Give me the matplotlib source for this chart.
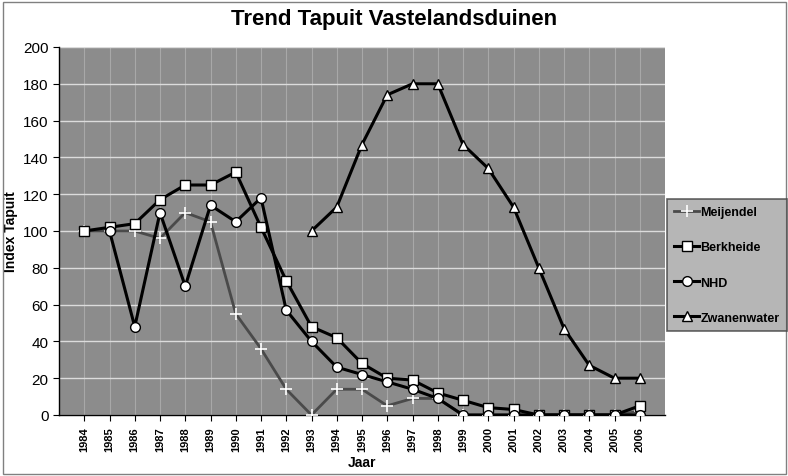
import numpy as np
import matplotlib.pyplot as plt
from matplotlib.patches import Rectangle

plt.rcParams["font.family"] = ["Liberation Sans", "DejaVu Sans"]

# ── data ──────────────────────────────────────────────────────────────────────
years = list(range(1984, 2007))
nan = np.nan

meijendel = [100, 100, 100, 96, 110, 105, 55, 36, 14, 0, 14, 14, 5, 9,
             9, 0, 0, 0, 0, 0, 0, 0, 2]
berkheide = [100, 102, 104, 117, 125, 125, 132, 102, 73, 48, 42, 28, 20, 19,
             12, 8, 4, 3, 0, 0, 0, 0, 5]
nhd = [nan, 100, 48, 110, 70, 114, 105, 118, 57, 40, 26, 22, 18, 14,
       9, 0, 0, 0, 0, 0, 0, 0, 0]
zwanenwater = [nan, nan, nan, nan, nan, nan, nan, nan, nan, 100, 113, 147,
               174, 180, 180, 147, 134, 113, 80, 47, 27, 20, 20]

# ── figure ────────────────────────────────────────────────────────────────────
W, H = 788, 477
fig = plt.figure(figsize=(W / 100, H / 100), dpi=100)
fig.patch.set_facecolor("white")
fig.add_artist(Rectangle((3 / W, 2 / H), 783 / W, 472 / H, transform=fig.transFigure,
                         fill=False, edgecolor="#808080", linewidth=1.0))

ax = fig.add_axes([59 / W, (H - 416) / H, 606 / W, 368 / H])
ax.set_facecolor("#8c8c8c")

ax.grid(True, axis="y", color="#dcdcdc", linewidth=1.0, zorder=1)
ax.grid(True, axis="x", color="#a8a8a8", linewidth=0.8, zorder=1)
ax.set_axisbelow(True)

line_kw = dict(linewidth=2.2, markeredgecolor="black", markerfacecolor="white",
               markeredgewidth=1.0, zorder=3)

ax.plot(years, meijendel, color="#4a4a4a", linewidth=2.0, marker="+",
        markersize=9, markeredgecolor="white", markeredgewidth=1.2,
        label="Meijendel", zorder=3)
ax.plot(years, berkheide, color="black", marker="s", markersize=7,
        label="Berkheide", **line_kw)
ax.plot(years, nhd, color="black", marker="o", markersize=7,
        label="NHD", **line_kw)
ax.plot(years, zwanenwater, color="black", marker="^", markersize=7,
        label="Zwanenwater", **line_kw)

ax.set_xlim(1983, 2007)
ax.set_ylim(0, 200)
ax.set_yticks(range(0, 201, 20))
ax.set_xticks(years)
ax.set_xticklabels([str(y) for y in years], rotation=90, fontsize=8,
                   fontweight="bold")
ax.tick_params(axis="y", labelsize=11, length=4, direction="out")
ax.tick_params(axis="x", length=4, direction="out", pad=4)

for s in ("top", "right"):
    ax.spines[s].set_visible(False)
for s in ("left", "bottom"):
    ax.spines[s].set_color("black")
    ax.spines[s].set_linewidth(1.0)

ax.set_ylabel("Index Tapuit", fontsize=10, fontweight="bold", labelpad=4)
ax.set_xlabel("Jaar", fontsize=10, fontweight="bold", labelpad=3)

fig.text(394 / W, 1 - 20 / H, "Trend Tapuit Vastelandsduinen", ha="center",
         va="center", fontsize=16, fontweight="bold")

leg = fig.legend(loc="center", bbox_to_anchor=(727 / W, 1 - 266 / H),
                 fontsize=9, frameon=True, fancybox=False, labelspacing=1.85,
                 handlelength=2.0, handletextpad=0.1, borderpad=0.6,
                 borderaxespad=0)
leg.get_frame().set_facecolor("#a4a4a4")
leg.get_frame().set_edgecolor("#404040")
leg.get_frame().set_linewidth(1.2)
for t in leg.get_texts():
    t.set_fontweight("bold")

fig.savefig("out.png", dpi=100)
